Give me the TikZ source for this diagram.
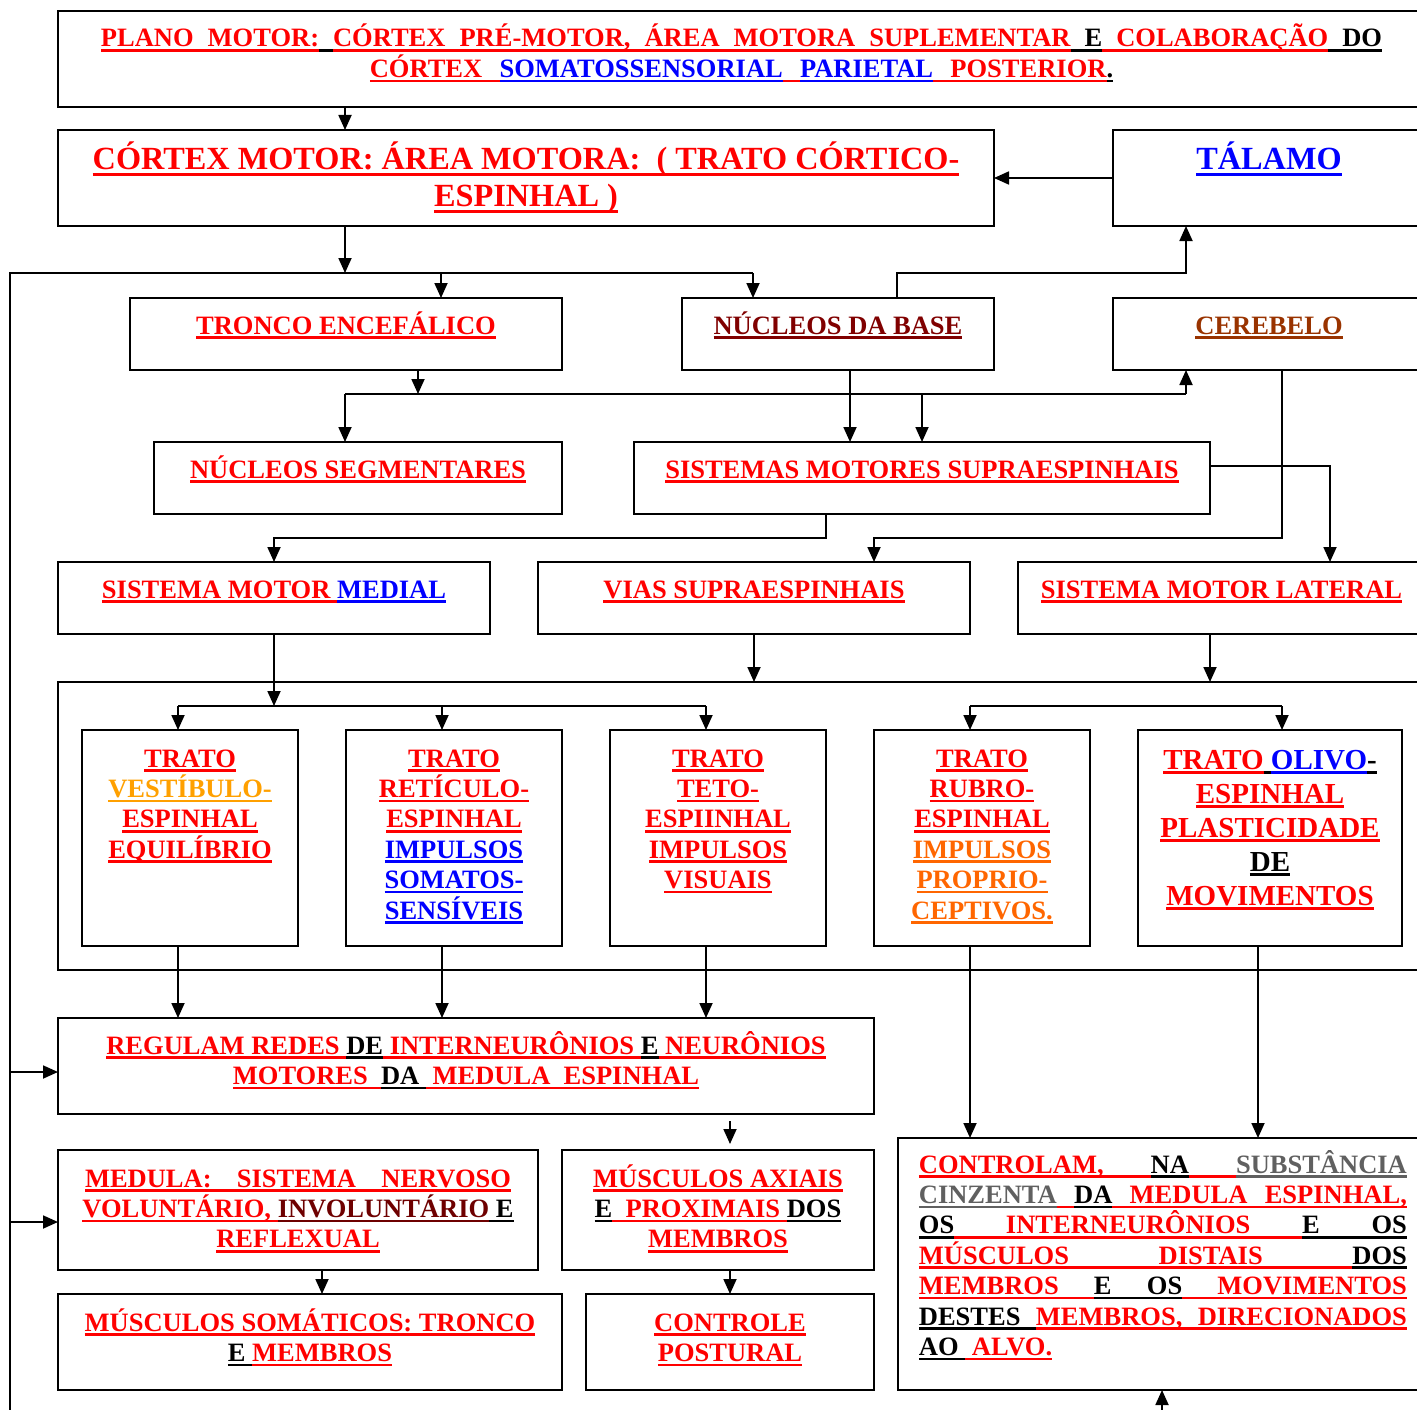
\documentclass[tikz,border=0pt]{standalone}
\usepackage{fontspec}
\setmainfont{Liberation Serif}
\usetikzlibrary{arrows.meta, positioning, calc}
\definecolor{txtred}{RGB}{255,0,0}
\definecolor{txtblue}{RGB}{0,0,255}
\definecolor{basered}{RGB}{128,0,0}
\definecolor{cerebrown}{RGB}{153,51,0}
\definecolor{amber}{RGB}{255,160,0}
\definecolor{tangerine}{RGB}{255,102,0}
\definecolor{invol}{RGB}{110,0,0}
\definecolor{graytxt}{RGB}{96,96,96}
% underlined run of text, and a stretchable underlined gap
\newcommand\undl[2]{{\color{#1}\setbox0=\hbox{#2}\rlap{\vrule height -.08em depth .18em width \wd0}\box0}}
\newcommand\undfill[1]{{\color{#1}\leaders\hrule height -.08em depth .18em\hfill}}
\newcommand\stackc[1]{\vtop{\halign{\hfil##\hfil\cr#1\crcr}}}
\newcommand\stackl[1]{\vtop{\halign{##\hfil\cr#1\crcr}}}
\tikzset{
    blk/.style={
        draw=black,
        line width=2pt,
        inner sep=0pt,
        outer sep=0pt,
        anchor=north west
    },
    lbl/.style={
        inner sep=0pt,
        anchor=base,
        font=\bfseries\fontsize{26.5}{30.4}\selectfont
    },
    biglbl/.style={lbl, font=\bfseries\fontsize{32.3}{37}\selectfont},
    olivolbl/.style={lbl, font=\bfseries\fontsize{29}{34}\selectfont}
}

\begin{document}
\begin{tikzpicture}[
    x=1pt, y=-1pt,
    line width=1.8pt,
    arr/.style={-{Triangle[length=15pt, width=13pt]}}
]
\useasboundingbox (0,0) rectangle (1417,1410);

\node[blk, minimum width=1367pt, minimum height=96pt] (plano) at (58,11) {};
\node[blk, minimum width=936pt, minimum height=96pt] (cortex) at (58,130) {};
\node[blk, minimum width=312pt, minimum height=96pt] (talamo) at (1113,130) {};
\node[blk, minimum width=432pt, minimum height=72pt] (tronco) at (130,298) {};
\node[blk, minimum width=312pt, minimum height=72pt] (nbase) at (682,298) {};
\node[blk, minimum width=312pt, minimum height=72pt] (cerebelo) at (1113,298) {};
\node[blk, minimum width=408pt, minimum height=72pt] (nseg) at (154,442) {};
\node[blk, minimum width=576pt, minimum height=72pt] (sms) at (634,442) {};
\node[blk, minimum width=432pt, minimum height=72pt] (medial) at (58,562) {};
\node[blk, minimum width=432pt, minimum height=72pt] (vias) at (538,562) {};
\node[blk, minimum width=407pt, minimum height=72pt] (lateral) at (1018,562) {};
\node[blk, minimum width=1367pt, minimum height=288pt] (tratos) at (58,682) {};
\node[blk, minimum width=216pt, minimum height=216pt] (vest) at (82,730) {};
\node[blk, minimum width=216pt, minimum height=216pt] (retic) at (346,730) {};
\node[blk, minimum width=216pt, minimum height=216pt] (teto) at (610,730) {};
\node[blk, minimum width=216pt, minimum height=216pt] (rubro) at (874,730) {};
\node[blk, minimum width=264pt, minimum height=216pt] (olivo) at (1138,730) {};
\node[blk, minimum width=816pt, minimum height=96pt] (regulam) at (58,1018) {};
\node[blk, minimum width=480pt, minimum height=120pt] (medula) at (58,1150) {};
\node[blk, minimum width=312pt, minimum height=120pt] (axiais) at (562,1150) {};
\node[blk, minimum width=504pt, minimum height=96pt] (somat) at (58,1294) {};
\node[blk, minimum width=288pt, minimum height=96pt] (postural) at (586,1294) {};
\node[blk, minimum width=527pt, minimum height=252pt] (controlam) at (898,1138) {};

\node[lbl] (plano-t) at (plano.north |- 0,47) {\spaceskip=14pt\relax\stackc{\undl{txtred}{PLANO MOTOR:}\undl{black}{ }\undl{txtred}{CÓRTEX PRÉ-MOTOR, ÁREA MOTORA SUPLEMENTAR}\undl{black}{ E}\undl{txtred}{ COLABORAÇÃO}\undl{black}{ DO}\cr
    \spaceskip=17.3pt\relax\undl{txtred}{CÓRTEX }\undl{txtblue}{SOMATOSSENSORIAL}\undl{txtred}{ }\undl{txtblue}{PARIETAL}\undl{txtred}{ POSTERIOR}\undl{black}{.}}};
\node[biglbl] (cortex-t) at (cortex.north |- 0,170) {\stackc{\undl{txtred}{CÓRTEX MOTOR: ÁREA MOTORA:\ \ ( TRATO CÓRTICO-}\cr
    \undl{txtred}{ESPINHAL )}}};
\node[biglbl] (talamo-t) at (talamo.north |- 0,170) {\undl{txtblue}{TÁLAMO}};
\node[lbl] (tronco-t) at (tronco.north |- 0,334) {\undl{txtred}{TRONCO ENCEFÁLICO}};
\node[lbl] (nbase-t) at (nbase.north |- 0,334) {\undl{basered}{NÚCLEOS DA BASE}};
\node[lbl] (cerebelo-t) at (cerebelo.north |- 0,334) {\undl{cerebrown}{CEREBELO}};
\node[lbl] (nseg-t) at (nseg.north |- 0,478) {\undl{txtred}{NÚCLEOS SEGMENTARES}};
\node[lbl] (sms-t) at (sms.north |- 0,478) {\undl{txtred}{SISTEMAS MOTORES SUPRAESPINHAIS}};
\node[lbl] (medial-t) at (medial.north |- 0,598) {\undl{txtred}{SISTEMA MOTOR }\undl{txtblue}{MEDIAL}};
\node[lbl] (vias-t) at (vias.north |- 0,598) {\undl{txtred}{VIAS SUPRAESPINHAIS}};
\node[lbl] (lateral-t) at (lateral.north |- 0,598) {\undl{txtred}{SISTEMA MOTOR LATERAL}};

\node[lbl] (vest-t) at (vest.north |- 0,767) {\stackc{\undl{txtred}{TRATO}\cr\undl{amber}{VESTÍBULO-}\cr
    \undl{txtred}{ESPINHAL}\cr\undl{txtred}{EQUILÍBRIO}}};
\node[lbl] (retic-t) at (retic.north |- 0,767) {\stackc{\undl{txtred}{TRATO}\cr\undl{txtred}{RETÍCULO-}\cr
    \undl{txtred}{ESPINHAL}\cr\undl{txtblue}{IMPULSOS}\cr\undl{txtblue}{SOMATOS-}\cr\undl{txtblue}{SENSÍVEIS}}};
\node[lbl] (teto-t) at (teto.north |- 0,767) {\stackc{\undl{txtred}{TRATO}\cr\undl{txtred}{TETO-}\cr
    \undl{txtred}{ESPIINHAL}\cr\undl{txtred}{IMPULSOS}\cr\undl{txtred}{VISUAIS}}};
\node[lbl] (rubro-t) at (rubro.north |- 0,767) {\stackc{\undl{txtred}{TRATO}\cr\undl{txtred}{RUBRO-}\cr
    \undl{txtred}{ESPINHAL}\cr\undl{tangerine}{IMPULSOS}\cr\undl{tangerine}{PROPRIO-}\cr\undl{tangerine}{CEPTIVOS.}}};
\node[olivolbl] (olivo-t) at (olivo.north |- 0,769) {\stackc{\undl{txtred}{TRATO}\undl{black}{ }\undl{txtblue}{OLIVO}\undl{black}{-}\cr
    \undl{txtred}{ESPINHAL}\cr\undl{txtred}{PLASTICIDADE}\cr\undl{black}{DE}\cr\undl{txtred}{MOVIMENTOS}}};

\node[lbl] (regulam-t) at (regulam.north |- 0,1054) {\stackc{\undl{txtred}{REGULAM REDES }\undl{black}{DE}\undl{txtred}{ INTERNEURÔNIOS }\undl{black}{E}\undl{txtred}{ NEURÔNIOS}\cr
    \undl{txtred}{MOTORES\ \ }\undl{black}{DA\ }\undl{txtred}{\ MEDULA\ \ ESPINHAL}}};
\node[lbl] (medula-t) at (medula.north |- 0,1187) {\stackc{\undl{txtred}{\hbox to 426pt{MEDULA:\hfil SISTEMA\hfil NERVOSO}}\cr
    \undl{txtred}{VOLUNTÁRIO, }\undl{invol}{INVOLUNTÁRIO}\undl{black}{ E}\cr\undl{txtred}{REFLEXUAL}}};
\node[lbl] (axiais-t) at (axiais.north |- 0,1187) {\stackc{\undl{txtred}{MÚSCULOS AXIAIS}\cr
    \undl{black}{E}\undl{txtred}{\ \ PROXIMAIS }\undl{black}{DOS}\cr\undl{txtred}{MEMBROS}}};
\node[lbl] (somat-t) at (somat.north |- 0,1331) {\stackc{\undl{txtred}{MÚSCULOS SOMÁTICOS: TRONCO}\cr
    \undl{black}{E }\undl{txtred}{MEMBROS}}};
\node[lbl] (postural-t) at (postural.north |- 0,1331) {\stackc{\undl{txtred}{CONTROLE}\cr\undl{txtred}{POSTURAL}}};
\node[lbl, anchor=base west] (controlam-t) at (918,1173) {\stackl{%
    \hbox to 488pt{\undl{txtred}{CONTROLAM,}\undfill{txtred}\undl{black}{NA}\undfill{txtred}\undl{graytxt}{SUBSTÂNCIA}}\cr
    \hbox to 488pt{\undl{graytxt}{CINZENTA}\undfill{txtred}\undl{black}{DA}\undfill{txtred}\undl{txtred}{MEDULA}\undfill{txtred}\undl{txtred}{ESPINHAL,}}\cr
    \hbox to 488pt{\undl{black}{OS}\undfill{txtred}\undl{txtred}{INTERNEURÔNIOS}\undfill{txtred}\undl{black}{E}\undfill{black}\undl{black}{OS}}\cr
    \hbox to 488pt{\undl{txtred}{MÚSCULOS}\undfill{txtred}\undl{txtred}{DISTAIS}\undfill{txtred}\undl{black}{DOS}}\cr
    \hbox to 488pt{\undl{txtred}{MEMBROS}\undfill{txtred}\undl{black}{E}\undfill{black}\undl{black}{OS}\undfill{txtred}\undl{txtred}{MOVIMENTOS}}\cr
    \hbox to 488pt{\undl{black}{DESTES}\undfill{black}\undl{txtred}{MEMBROS,}\undfill{txtred}\undl{txtred}{DIRECIONADOS}}\cr
    \undl{black}{AO\ }\undl{txtred}{\ ALVO.}}};

\coordinate (busA) at (10,273);
\coordinate (busEnd) at (10,1410);
\coordinate (cA) at (345,273);
\coordinate (tA) at (441,273);
\coordinate (nA) at (753,273);
\coordinate (bT1) at (897,273);
\coordinate (bT2) at (1186,273);
\coordinate (lR) at (10,1072);
\coordinate (lM) at (10,1222);
\coordinate (tB) at (418,394);
\coordinate (sL) at (345,394);
\coordinate (sS) at (922,394);
\coordinate (sR) at (1186,394);
\coordinate (bS) at (850,394);
\coordinate (sLat) at (1330,466);
\coordinate (cV1) at (1282,538);
\coordinate (cV2) at (874,538);
\coordinate (sM1) at (826,538);
\coordinate (sM2) at (274,538);
\coordinate (mB) at (274,706);
\coordinate (mL) at (178,706);
\coordinate (mC) at (442,706);
\coordinate (mR) at (706,706);
\coordinate (lT) at (1210,660);
\coordinate (rL) at (970,706);
\coordinate (rR) at (1282,706);
\coordinate (oC) at (1258,1000);
\coordinate (axIn) at (730,1121);
\coordinate (mS) at (322,1280);
\coordinate (cIn) at (1162,1410);

\draw[arr] (plano.south -| cA) -- (cortex.north -| cA);
\draw[arr] (talamo.west) -- (cortex.east);
\draw[arr] (cortex.south -| cA) -- (cA);
\draw (busEnd) -- (busA) -- (nA);
\draw[arr] (tA) -- (tronco.north -| tA);
\draw[arr] (nA) -- (nbase.north -| nA);
\draw[arr] (lR) -- (regulam.west |- lR);
\draw[arr] (lM) -- (medula.west |- lM);
\draw[arr] (nbase.north -| bT1) -- (bT1) -- (bT2) -- (talamo.south -| bT2);

\draw[arr] (tronco.south -| tB) -- (tB);
\draw (sL) -- (sR);
\draw[arr] (sL) -- (nseg.north -| sL);
\draw[arr] (sR) -- (cerebelo.south -| sR);
\draw[arr] (sS) -- (sms.north -| sS);
\draw[arr] (nbase.south -| bS) -- (sms.north -| bS);

\draw[arr] (sms.east |- sLat) -- (sLat) -- (lateral.north -| sLat);
\draw[arr] (cerebelo.south -| cV1) -- (cV1) -- (cV2) -- (vias.north -| cV2);
\draw[arr] (sms.south -| sM1) -- (sM1) -- (sM2) -- (medial.north -| sM2);

\draw[arr] (medial.south -| mB) -- (mB);
\draw (mL) -- (mR);
\draw[arr] (mL) -- (vest.north -| mL);
\draw[arr] (mC) -- (retic.north -| mC);
\draw[arr] (mR) -- (teto.north -| mR);
\draw[arr] (vias.south) -- (tratos.north -| vias.south);
\draw[arr] (lateral.south -| lT) -- (tratos.north -| lT);
\draw (rL) -- (rR);
\draw[arr] (rL) -- (rubro.north -| rL);
\draw[arr] (rR) -- (olivo.north -| rR);

\draw[arr] (vest.south -| mL) -- (regulam.north -| mL);
\draw[arr] (retic.south -| mC) -- (regulam.north -| mC);
\draw[arr] (teto.south -| mR) -- (regulam.north -| mR);
\draw[arr] (rubro.south -| rL) -- (controlam.north -| rL);
\draw[arr] (olivo.south -| oC) -- (controlam.north -| oC);

\draw[arr, shorten >=6pt] (axIn) -- (axiais.north -| axIn);
\draw[arr] (medula.south -| mS) -- (somat.north -| mS);
\draw[arr] (axiais.south -| axIn) -- (postural.north -| axIn);
\draw[arr] (cIn) -- (controlam.south -| cIn);

\end{tikzpicture}
\end{document}
